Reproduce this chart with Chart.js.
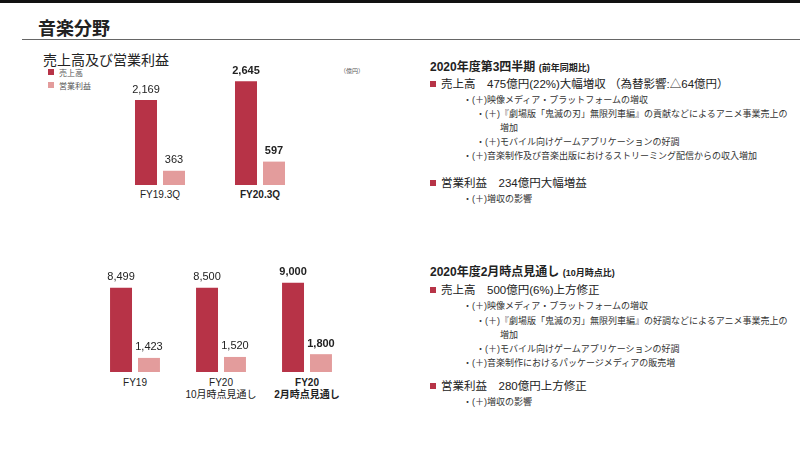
<!DOCTYPE html>
<html><head><meta charset="utf-8">
<script src="https://cdn.jsdelivr.net/npm/chart.js@4"></script>
<style>
body{margin:0;width:800px;height:453px;background:#fff;position:relative;overflow:hidden;font-family:"Liberation Sans","Noto Sans CJK JP",sans-serif;color:#222}
.a{position:absolute;white-space:nowrap}
#bar{left:0;top:0;width:800px;height:3px;background:#111}
#rule{left:22px;top:39px;width:778px;height:1px;background:#666}
.t{font-size:9px;line-height:14.5px;color:#333}
.h{font-size:11.5px;line-height:14.5px}
.sq{display:inline-block;width:6px;height:6px;margin-right:5px;vertical-align:1px}
.lab{font-size:10px;text-align:center;transform:translateX(-50%);line-height:12px}
</style></head><body>
<div class="a" id="bar"></div>
<div class="a" style="left:38px;top:14px;font-size:18px;font-weight:bold">音楽分野</div>
<div class="a" id="rule"></div>
<div class="a" style="left:43px;top:49px;font-size:14px">売上高及び営業利益</div>
<div class="a" style="left:48px;top:67px;font-size:8px;color:#555"><span class="sq" style="background:#b73347"></span>売上高</div>
<div class="a" style="left:48px;top:80px;font-size:8px;color:#555"><span class="sq" style="background:#e39c9c"></span>営業利益</div>
<div class="a" style="left:340px;top:66px;font-size:6px;color:#555">（億円）</div>
<canvas id="c1" class="a" style="left:110px;top:40px;width:200px;height:145px"></canvas>
<canvas id="c2" class="a" style="left:92px;top:250px;width:258px;height:122px"></canvas>
<div id="xl"></div>

<div class="a h" style="left:430px;top:60px;font-size:12px;font-weight:bold">2020年度第3四半期 <span style="font-size:9px">(前年同期比)</span></div>
<div class="a h" style="left:430px;top:77px"><span class="sq" style="background:#b73347"></span>売上高　475億円(22%)大幅増収 （為替影響:△64億円）</div>
<div class="a t" style="left:463px;top:93px">・(＋)映像メディア・プラットフォームの増収</div>
<div class="a t" style="left:476px;top:107px">・(＋)『劇場版「鬼滅の刃」無限列車編』の貢献などによるアニメ事業売上の</div>
<div class="a t" style="left:500px;top:121px">増加</div>
<div class="a t" style="left:476px;top:135px">・(＋)モバイル向けゲームアプリケーションの好調</div>
<div class="a t" style="left:463px;top:149px">・(＋)音楽制作及び音楽出版におけるストリーミング配信からの収入増加</div>
<div class="a h" style="left:430px;top:176px"><span class="sq" style="background:#b73347"></span>営業利益　234億円大幅増益</div>
<div class="a t" style="left:463px;top:192px">・(＋)増収の影響</div>

<div class="a h" style="left:430px;top:265px;font-size:12px;font-weight:bold">2020年度2月時点見通し <span style="font-size:9px">(10月時点比)</span></div>
<div class="a h" style="left:430px;top:283px"><span class="sq" style="background:#b73347"></span>売上高　500億円(6%)上方修正</div>
<div class="a t" style="left:463px;top:299px">・(＋)映像メディア・プラットフォームの増収</div>
<div class="a t" style="left:476px;top:314px">・(＋)『劇場版「鬼滅の刃」無限列車編』の好調などによるアニメ事業売上の</div>
<div class="a t" style="left:500px;top:328px">増加</div>
<div class="a t" style="left:476px;top:342px">・(＋)モバイル向けゲームアプリケーションの好調</div>
<div class="a t" style="left:463px;top:356px">・(＋)音楽制作におけるパッケージメディアの販売増</div>
<div class="a h" style="left:430px;top:379px"><span class="sq" style="background:#b73347"></span>営業利益　280億円上方修正</div>
<div class="a t" style="left:463px;top:395px">・(＋)増収の影響</div>
<script>
const catsQ=['FY19.3Q','FY20.3Q'];
const salesQ=[2169,2645];
const profitQ=[363,597];
const catsY=[['FY19'],['FY20','10月時点見通し'],['FY20','2月時点見通し']];
const salesY=[8499,8500,9000];
const profitY=[1423,1520,1800];
const dark='#b73347',light='#e39c9c';

const valueLabels={id:'vl',afterDatasetsDraw(ch){
  const c=ch.ctx,bold=ch.options.plugins.vl.bold;
  ch.data.datasets.forEach((d,i)=>ch.getDatasetMeta(i).data.forEach((b,j)=>{
    c.save();c.fillStyle='#222';c.textAlign='center';c.textBaseline='bottom';
    c.font=(j===bold?'bold ':'')+'11px "Liberation Sans"';
    c.fillText(d.data[j].toLocaleString('en-US'),b.x,b.y-5);c.restore();
  }));
}};
function make(id,cats,s,p,max,catPct,barPct,bold){
  return new Chart(document.getElementById(id),{
    type:'bar',
    data:{labels:cats.map(c=>c.join(' ')),datasets:[
      {label:'売上高',data:s,backgroundColor:dark,barPercentage:barPct,categoryPercentage:catPct},
      {label:'営業利益',data:p,backgroundColor:light,barPercentage:barPct,categoryPercentage:catPct}]},
    options:{responsive:false,animation:false,layout:{padding:{top:20}},
      plugins:{legend:{display:false},tooltip:{enabled:false},vl:{bold}},
      scales:{x:{grid:{display:false,drawTicks:false},border:{color:'#ccc'},ticks:{display:false}},
        y:{display:false,min:0,max}}},
    plugins:[valueLabels]});
}
const ch1=make('c1',catsQ.map(c=>[c]),salesQ,profitQ,3190,0.56,0.786,1);
const ch2=make('c2',catsY,salesY,profitY,10300,0.65,0.786,2);
// category labels under axes, placed at the library's scale positions
function xlabels(ch,cats,left,top,bold){
  cats.forEach((c,i)=>{
    const d=document.createElement('div');d.className='a lab';
    d.style.left=(left+ch.scales.x.getPixelForValue(i))+'px';d.style.top=top+'px';
    if(i===bold)d.style.fontWeight='bold';
    d.innerHTML=c.join('<br>');document.getElementById('xl').appendChild(d);
  });
}
xlabels(ch1,catsQ.map(c=>[c]),110,189,1);
xlabels(ch2,catsY,92,377,2);
</script>
</body></html>
